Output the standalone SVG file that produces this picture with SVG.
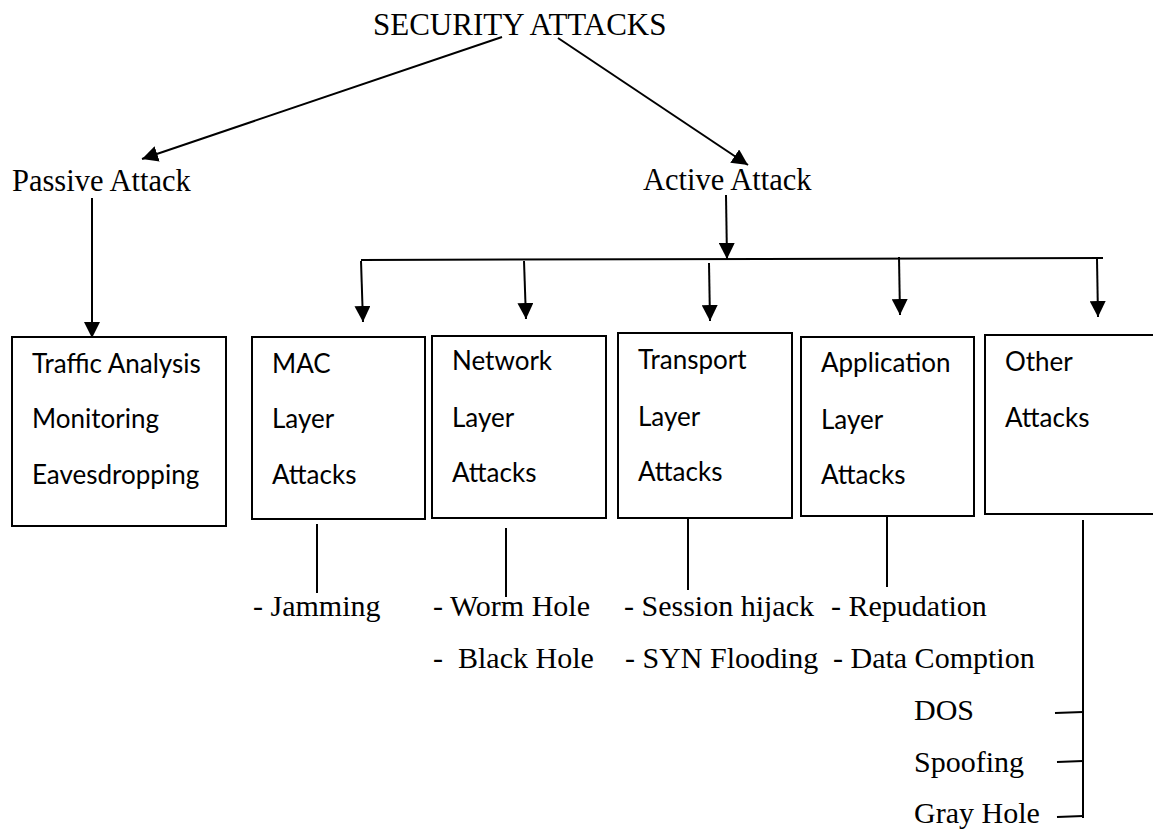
<svg xmlns="http://www.w3.org/2000/svg" width="1153" height="829" viewBox="0 0 1153 829">
  <defs>
    <marker id="arrow" markerUnits="userSpaceOnUse" markerWidth="16" markerHeight="16" viewBox="0 0 14 14" refX="14" refY="7" orient="auto">
      <path d="M0,0 L14,7 L0,14 Z" fill="#000"/>
    </marker>
    <style>
      .serif { font-family: "Liberation Serif", "Times New Roman", serif; font-size: 30px; fill: #000; }
      .head { font-size: 30.5px; }
      .title { font-size: 31px; }
      .sans { font-family: Lato, "Open Sans", sans-serif; font-size: 26px; fill: #000; }
      .box { fill: #fff; stroke: #000; stroke-width: 2; }
      .link { stroke: #000; stroke-width: 2; fill: none; }
      .arr { stroke: #000; stroke-width: 2; fill: none; marker-end: url(#arrow); }
    </style>
  </defs>
  <rect width="1153" height="829" fill="#fff"/>

  <!-- connectors -->
  <g id="connectors">
    <line class="arr" x1="502" y1="37" x2="142" y2="159"/>
    <line class="arr" x1="558" y1="38" x2="748" y2="165"/>
    <line class="arr" x1="92" y1="198" x2="92" y2="338"/>
    <line class="arr" x1="726" y1="195" x2="727" y2="259"/>
    <line class="link" x1="361" y1="260" x2="1103" y2="258"/>
    <line class="arr" x1="361" y1="261" x2="363" y2="322"/>
    <line class="arr" x1="524" y1="261" x2="526" y2="319"/>
    <line class="arr" x1="709" y1="263" x2="710" y2="321"/>
    <line class="arr" x1="899" y1="257" x2="900" y2="315"/>
    <line class="arr" x1="1097" y1="259" x2="1098" y2="317"/>
    <!-- branches to leaf lists -->
    <line class="link" x1="317" y1="524" x2="317" y2="593"/>
    <line class="link" x1="506" y1="528" x2="506" y2="597"/>
    <line class="link" x1="688" y1="518" x2="688" y2="590"/>
    <line class="link" x1="887" y1="516" x2="887" y2="587"/>
    <line class="link" x1="1083" y1="520" x2="1083" y2="818"/>
    <line class="link" x1="1055" y1="713" x2="1083" y2="712"/>
    <line class="link" x1="1057" y1="762" x2="1083" y2="761"/>
    <line class="link" x1="1057" y1="817" x2="1083" y2="816"/>
  </g>

  <g id="root">
    <text class="serif title" x="373" y="35">SECURITY ATTACKS</text>
  </g>
  <g id="passive">
    <text class="serif head" x="12" y="191">Passive Attack</text>
  </g>
  <g id="active">
    <text class="serif head" x="643" y="190">Active Attack</text>
  </g>

  <g id="passive-types">
    <rect class="box" x="12" y="337" width="214" height="189"/>
    <text class="sans" x="32" y="373">Traffic Analysis</text>
    <text class="sans" x="32" y="428">Monitoring</text>
    <text class="sans" x="32" y="484">Eavesdropping</text>
  </g>

  <g id="mac-layer">
    <rect class="box" x="252" y="337" width="173" height="182"/>
    <text class="sans" x="272" y="373">MAC</text>
    <text class="sans" x="272" y="428">Layer</text>
    <text class="sans" x="272" y="484">Attacks</text>
  </g>

  <g id="network-layer">
    <rect class="box" x="432" y="336" width="174" height="182"/>
    <text class="sans" x="452" y="370">Network</text>
    <text class="sans" x="452" y="427">Layer</text>
    <text class="sans" x="452" y="482">Attacks</text>
  </g>

  <g id="transport-layer">
    <rect class="box" x="618" y="333" width="174" height="185"/>
    <text class="sans" x="638" y="369">Transport</text>
    <text class="sans" x="638" y="426">Layer</text>
    <text class="sans" x="638" y="481">Attacks</text>
  </g>

  <g id="application-layer">
    <rect class="box" x="801" y="337" width="173" height="179"/>
    <text class="sans" x="821" y="372">Application</text>
    <text class="sans" x="821" y="429">Layer</text>
    <text class="sans" x="821" y="484">Attacks</text>
  </g>

  <g id="other-attacks">
    <rect class="box" x="985" y="335" width="180" height="179"/>
    <text class="sans" x="1005" y="371">Other</text>
    <text class="sans" x="1005" y="427">Attacks</text>
  </g>

  <g id="mac-list">
    <text class="serif" x="253" y="616">- Jamming</text>
  </g>
  <g id="network-list">
    <text class="serif" x="433" y="616">- Worm Hole</text>
    <text class="serif" x="433" y="668" xml:space="preserve">-  Black Hole</text>
  </g>
  <g id="transport-list">
    <text class="serif" x="624" y="616">- Session hijack</text>
    <text class="serif" x="625" y="668">- SYN Flooding</text>
  </g>
  <g id="application-list">
    <text class="serif" x="831" y="616">- Repudation</text>
    <text class="serif" x="833" y="668">- Data Comption</text>
  </g>
  <g id="other-list">
    <text class="serif" x="914" y="720">DOS</text>
    <text class="serif" x="914" y="772">Spoofing</text>
    <text class="serif" x="914" y="823">Gray Hole</text>
  </g>
</svg>
